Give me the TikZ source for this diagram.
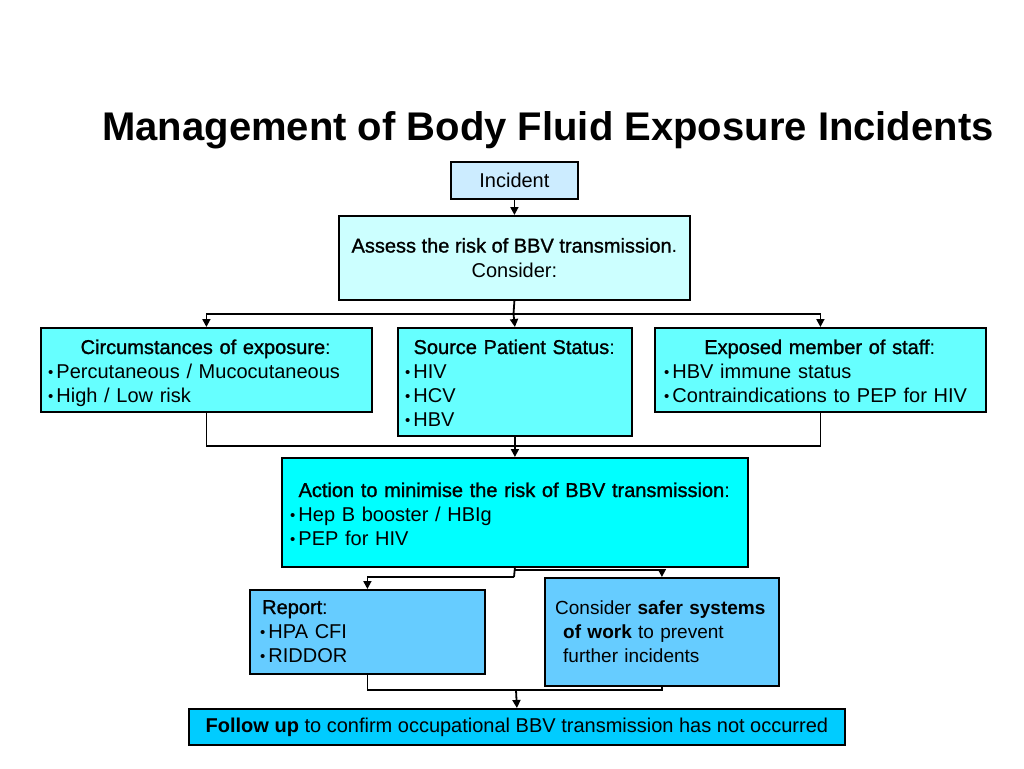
\documentclass[tikz,border=0pt]{standalone}
\usepackage{fontspec}
\setmainfont{Liberation Sans}
\newfontface\hv{Liberation Sans}[FakeBold=1.2]
\usetikzlibrary{arrows.meta}
\definecolor{cIncident}{HTML}{CCECFF}
\definecolor{cAssess}{HTML}{CCFFFF}
\definecolor{cRow}{HTML}{66FFFF}
\definecolor{cAction}{HTML}{00FFFF}
\definecolor{cReport}{HTML}{66CCFF}
\definecolor{cFollow}{HTML}{00CCFF}
\newcommand\bl{{\fontsize{15}{24}\selectfont\raisebox{1pt}{•}}\hspace{3pt}}
\begin{document}
\begin{tikzpicture}[x=1pt,y=-1pt,
  box/.style={draw=black, line width=1.8pt, inner sep=0pt, anchor=north west},
  body/.style={font=\fontsize{20}{24}\selectfont},
  txt/.style={body, inner sep=0pt, anchor=base west},
  conn/.style={draw=black, line width=1.8pt},
  arr/.style={conn, -{Triangle[length=8pt,width=8pt]}}]
\useasboundingbox (0,0) rectangle (1024,768);

\node[font=\bfseries\fontsize{40}{48}\selectfont, anchor=base, inner sep=0pt] (title) at (548,140) {Management of Body Fluid Exposure Incidents};

% boxes
\node[box, fill=cIncident, minimum width=127pt, minimum height=37pt, body] (incident) at (450,161) {Incident};
\node[box, fill=cAssess, minimum width=351pt, minimum height=84pt, body, align=center, font=\fontsize{20}{25}\selectfont] (assess) at (338,215) {{\hv Assess the risk of BBV transmission}.\\Consider:};
\node[box, fill=cRow, minimum width=331pt, minimum height=84pt] (circ) at (40,327) {};
\node[box, fill=cRow, minimum width=234pt, minimum height=108pt] (src) at (397,327) {};
\node[box, fill=cRow, minimum width=331pt, minimum height=84pt] (expo) at (654,327) {};
\node[box, fill=cAction, minimum width=466pt, minimum height=109pt] (action) at (281,457) {};
\node[box, fill=cReport, minimum width=235pt, minimum height=84pt] (report) at (249,589) {};
\node[box, fill=cReport, minimum width=234pt, minimum height=108pt] (safer) at (544,577) {};
\node[box, fill=cFollow, minimum width=656pt, minimum height=36pt, body] (follow) at (188,708) {\textbf{Follow up} to confirm occupational BBV transmission has not occurred};

% texts
\node[txt, text width=315pt] (circ-t) at (48,354) {\centering{\hv Circumstances of exposure}:\par\raggedright\bl Percutaneous / Mucocutaneous\par\bl High / Low risk\par};
\node[txt, text width=218pt] (src-t) at (405,354) {\centering{\hv Source Patient Status}:\par\raggedright\bl HIV\par\bl HCV\par\bl HBV\par};
\node[txt, text width=311pt] (expo-t) at (664,354) {\centering{\hv Exposed member of staff}:\par\raggedright\bl HBV immune status\par\bl Contraindications to PEP for HIV\par};
\node[txt, text width=448pt] (action-t) at (290,497) {\centering{\hv Action to minimise the risk of BBV transmission}:\par\raggedright\bl Hep B booster / HBIg\par\bl PEP for HIV\par};
\node[txt, text width=215pt] (report-t) at (260,614) {\raggedright\hspace{2pt}{\hv Report}:\par\bl HPA CFI\par\bl RIDDOR\par};
\node[txt, text width=300pt, font=\fontsize{19}{24}\selectfont] (safer-t) at (555,614) {\raggedright Consider \textbf{safer systems}\par\hspace{8pt}\textbf{of work} to prevent\par\hspace{8pt}further incidents\par};

% connectors
\coordinate (j1) at (513.5,314);
\coordinate (j2) at (514,446);
\coordinate (j3) at (514,577);
\coordinate (j4) at (514,570);
\coordinate (j5) at (516,690);
\draw[arr] (incident.south) -- (assess.north);
\draw[conn] (assess.south) -- (j1);
\draw[arr] (j1) -| (circ.north);
\draw[arr] (j1) -- (src.north);
\draw[arr] (j1) -| (expo.north);
\draw[conn] (circ.south) |- (j2) -| (expo.south);
\draw[arr] (src.south) -- (action.north);
\draw[conn] (action.south) -- (j3);
\draw[arr] (j3) -| (report.north);
\draw[arr] (j4) -| (safer.north);
\draw[conn] (report.south) |- (j5) -| (safer.south);
\draw[arr] (j5) -- (follow.north);
\end{tikzpicture}
\end{document}
